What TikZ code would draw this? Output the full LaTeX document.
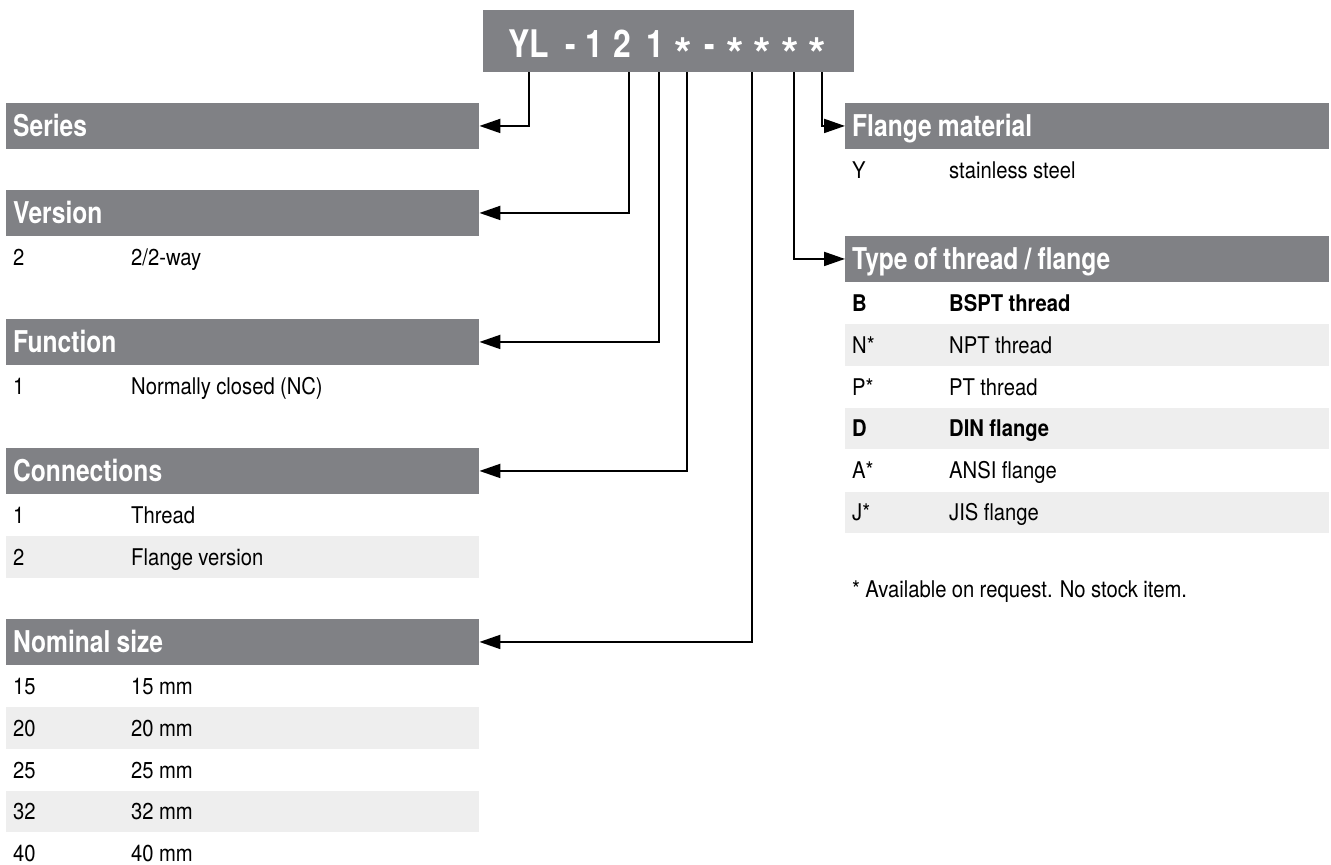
\documentclass[tikz,border=0pt]{standalone}
\usepackage{fontspec}
\setmainfont{TeX Gyre Heros}[FakeStretch=0.88, WordSpace=0.95]
\newfontfamily\headfont{TeX Gyre Heros}[FakeStretch=0.82, WordSpace=0.9]
\newfontfamily\codefont{TeX Gyre Heros}[FakeStretch=0.84]
\newfontfamily\starfont{TeX Gyre Heros}
\usepackage{tikz}
\usetikzlibrary{positioning, arrows.meta}
\usepackage{xcolor}

\definecolor{hdrgray}{RGB}{128,129,133}
\definecolor{bandgray}{RGB}{238,238,238}

\newcommand{\lentry}[2]{\makebox[118pt][l]{#1}#2}
\newcommand{\rentry}[2]{\makebox[97pt][l]{#1}#2}

\tikzset{
  head/.style={fill=hdrgray, text=white, anchor=north west,
    font=\headfont\bfseries\fontsize{30}{34}\selectfont,
    inner xsep=7pt, inner ysep=0pt, minimum height=45.5pt,
    text height=21.5pt, text depth=0pt, align=flush left},
  lhead/.style={head, text width=459pt},
  rhead/.style={head, text width=470pt},
  row/.style={inner xsep=7pt, inner ysep=0pt, minimum height=41.5pt,
    text height=16.7pt, text depth=0pt, align=flush left,
    font=\fontsize{23}{27}\selectfont},
  lrow/.style={row, text width=459pt},
  rrow/.style={row, text width=470pt},
  band/.style={fill=bandgray},
  codechar/.style={anchor=base, inner sep=0pt, text=white,
    font=\codefont\bfseries\fontsize{38}{42}\selectfont},
  codestar/.style={anchor=base, inner sep=0pt, text=white,
    font=\starfont\bfseries\fontsize{45}{50}\selectfont},
  link/.style={line width=2pt, -{Triangle[length=21pt,width=14pt]}},
}

\begin{document}
\begin{tikzpicture}[x=1pt, y=-1pt]
  \useasboundingbox (0,0) rectangle (1331,865);

  % order code
  \node[fill=hdrgray, anchor=north west, inner sep=0pt,
        minimum width=371pt, minimum height=62pt] (code) at (483,10) {};
  \foreach \x/\c/\n in {529/YL/kYL, 571/-/kDa, 594/1/kOne, 622/2/kVer,
                        655/1/kFun, 710/-/kDb}
    \node[codechar] (\n) at (\x,57) {\c};
  \foreach \x/\n in {683/kCon, 735/kNa, 762/kNb, 790/kThr, 817/kMat}
    \node[codestar] (\n) at (\x,70) {*};
  % where the leaders leave the code
  \foreach \x/\n in {529/tSer, 629/tVer, 659/tFun, 687/tCon, 752/tNom,
                     794/tThr, 822/tMat}
    \coordinate (\n) at (\x,72);

  % left column
  \node[lhead] (series) at (6,103) {Series};

  \node[lhead] (version) at (6,190) {Version};
  \node[lrow, below=0pt of version] (ver2) {\lentry{2}{2/2-way}};

  \node[lhead] (function) at (6,319) {Function};
  \node[lrow, below=0pt of function] (fun1) {\lentry{1}{Normally closed (NC)}};

  \node[lhead] (connections) at (6,448) {Connections};
  \node[lrow, below=0pt of connections] (con1) {\lentry{1}{Thread}};
  \node[lrow, band, below=0pt of con1] (con2) {\lentry{2}{Flange version}};

  \node[lhead] (nominal) at (6,619) {Nominal size};
  \node[lrow, below=0pt of nominal] (dn15) {\lentry{15}{15 mm}};
  \node[lrow, band, below=0pt of dn15] (dn20) {\lentry{20}{20 mm}};
  \node[lrow, below=0pt of dn20] (dn25) {\lentry{25}{25 mm}};
  \node[lrow, band, below=0pt of dn25] (dn32) {\lentry{32}{32 mm}};
  \node[lrow, below=0pt of dn32] (dn40) {\lentry{40}{40 mm}};

  % right column
  \node[rhead] (material) at (845,103) {Flange material};
  \node[rrow, below=0pt of material] (matY) {\rentry{Y}{stainless steel}};

  \node[rhead] (thread) at (845,236) {Type of thread / flange};
  \node[rrow, below=0pt of thread] (thrB) {\bfseries\rentry{B}{BSPT thread}};
  \node[rrow, band, below=0pt of thrB] (thrN) {\rentry{N*}{NPT thread}};
  \node[rrow, below=0pt of thrN] (thrP) {\rentry{P*}{PT thread}};
  \node[rrow, band, below=0pt of thrP] (thrD) {\bfseries\rentry{D}{DIN flange}};
  \node[rrow, below=0pt of thrD] (thrA) {\rentry{A*}{ANSI flange}};
  \node[rrow, band, below=0pt of thrA] (thrJ) {\rentry{J*}{JIS flange}};

  \node[row, anchor=west] (remark) at ([yshift=-56pt]thrJ.south west)
    {* Available on request. No stock item.};

  % leaders
  \draw[link] (tSer |- code.south) |- (series.east);
  \draw[link] (tVer |- code.south) |- (version.east);
  \draw[link] (tFun |- code.south) |- (function.east);
  \draw[link] (tCon |- code.south) |- (connections.east);
  \draw[link] (tNom |- code.south) |- (nominal.east);
  \draw[link] (tThr |- code.south) |- (thread.west);
  \draw[link] (tMat |- code.south) |- (material.west);
\end{tikzpicture}
\end{document}
